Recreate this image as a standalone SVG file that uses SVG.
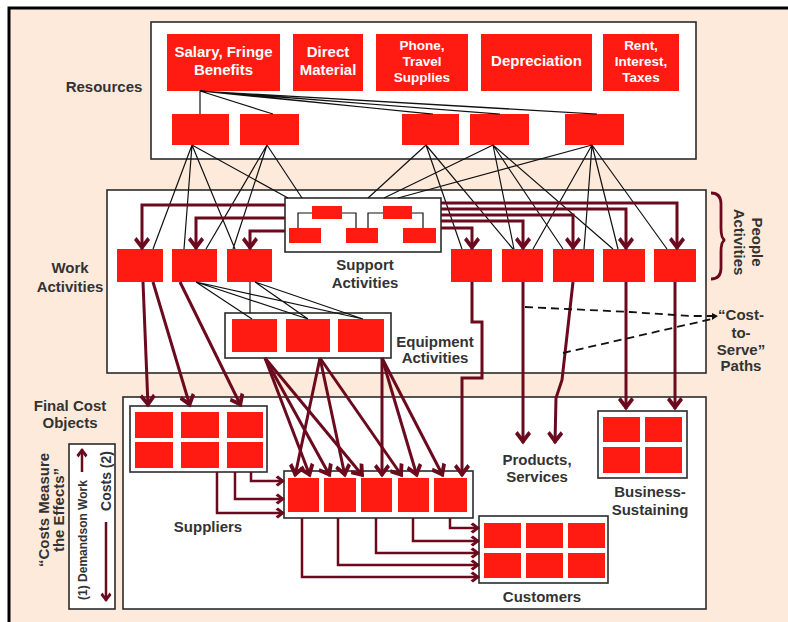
<svg xmlns="http://www.w3.org/2000/svg" width="788" height="622" viewBox="0 0 788 622">
  <defs>
    <style>
      .frame { fill: #FDEADB; stroke: #000; stroke-width: 3; }
      .box { fill: #FFFFFF; stroke: #2b2b2b; stroke-width: 1.6; }
      .red { fill: #FF1A12; }
      .lbl { font-family: "Liberation Sans", Arial, sans-serif; font-weight: bold; font-size: 15px; fill: #333; text-anchor: middle; }
      .wt { font-family: "Liberation Sans", Arial, sans-serif; font-weight: bold; font-size: 15px; fill: #FFFFFF; text-anchor: middle; }
      .wt3 { font-size: 13.5px; }
      .thin { fill: none; stroke: #111; stroke-width: 1.2; }
      .flow { fill: none; stroke: #6B0A1E; stroke-width: 3; marker-end: url(#ah); }
      .flowS { fill: none; stroke: #6B0A1E; stroke-width: 2.5; marker-end: url(#ahS); }
      .dash { fill: none; stroke: #111; stroke-width: 1.8; stroke-dasharray: 8 5; }
      .brace { fill: none; stroke: #6B0A1E; stroke-width: 2.8; }
    </style>
    <marker id="ah" markerUnits="userSpaceOnUse" markerWidth="20" markerHeight="20" refX="0" refY="0" orient="auto" overflow="visible">
      <path d="M1.5,0 L-9,-8 L-12,-5.5 L-5,0 L-12,5.5 L-9,8 Z" fill="#6B0A1E"/>
    </marker>
    <marker id="ahS" markerUnits="userSpaceOnUse" markerWidth="14" markerHeight="14" refX="0" refY="0" orient="auto" overflow="visible">
      <path d="M1,0 L-6,-5.5 L-8.5,-3.5 L-3.5,0 L-8.5,3.5 L-6,5.5 Z" fill="#6B0A1E"/>
    </marker>
  </defs>

  <!-- page frame -->
  <rect class="frame" x="9" y="8" width="790" height="625"/>

  <!-- Resources -->
  <g id="resources">
    <rect class="box" x="151" y="22" width="545" height="137"/>
    <text class="lbl" x="104" y="92">Resources</text>
    <rect class="red" x="167" y="34" width="113" height="57"/>
    <text class="wt" x="223.5" y="57">Salary, Fringe</text>
    <text class="wt" x="223.5" y="75">Benefits</text>
    <rect class="red" x="293" y="34" width="70" height="57"/>
    <text class="wt" x="328" y="57">Direct</text>
    <text class="wt" x="328" y="75">Material</text>
    <rect class="red" x="376" y="34" width="92" height="57"/>
    <text class="wt wt3" x="422" y="50">Phone,</text>
    <text class="wt wt3" x="422" y="66">Travel</text>
    <text class="wt wt3" x="422" y="82">Supplies</text>
    <rect class="red" x="481" y="34" width="111" height="57"/>
    <text class="wt" x="536.5" y="66">Depreciation</text>
    <rect class="red" x="603" y="34" width="76" height="57"/>
    <text class="wt wt3" x="641" y="50">Rent,</text>
    <text class="wt wt3" x="641" y="66">Interest,</text>
    <text class="wt wt3" x="641" y="82">Taxes</text>
    <rect class="red" x="172" y="114" width="57" height="31"/>
    <rect class="red" x="240" y="114" width="59" height="31"/>
    <rect class="red" x="402" y="114" width="57" height="31"/>
    <rect class="red" x="470" y="114" width="59" height="31"/>
    <rect class="red" x="565" y="114" width="59" height="31"/>
  </g>

  <!-- Work Activities -->
  <g id="work-activities">
    <rect class="box" x="107" y="190" width="599" height="183"/>
    <text class="lbl" x="70" y="273">Work</text>
    <text class="lbl" x="70" y="292">Activities</text>
    <rect class="red" x="117" y="249" width="46" height="33"/>
    <rect class="red" x="172" y="249" width="45" height="33"/>
    <rect class="red" x="227" y="249" width="45" height="33"/>
  </g>

  <g id="people-activities">
    <rect class="red" x="451" y="249" width="41" height="33"/>
    <rect class="red" x="502" y="249" width="41" height="33"/>
    <rect class="red" x="553" y="249" width="41" height="33"/>
    <rect class="red" x="603" y="249" width="42" height="33"/>
    <rect class="red" x="654" y="249" width="42" height="33"/>
    <path class="brace" d="M711,193 Q721,193 721,204 L721,228 Q721,239 725,240 Q721,241 721,252 L721,268 Q721,279 711,279"/>
    <text class="lbl" transform="translate(752,242) rotate(90)">People</text>
    <text class="lbl" transform="translate(734,242) rotate(90)">Activities</text>
  </g>

  <!-- Support Activities (small org chart) -->
  <g id="support-activities">
    <rect class="box" x="285" y="198" width="156" height="54"/>
    <path class="thin" d="M312,213 H298 V228 M342,213 H356 V228 M383,213 H368 V228 M412,213 H423 V228"/>
    <rect class="red" x="312" y="206" width="30" height="13"/>
    <rect class="red" x="383" y="206" width="29" height="13"/>
    <rect class="red" x="289" y="228" width="32" height="15"/>
    <rect class="red" x="346" y="228" width="32" height="15"/>
    <rect class="red" x="403" y="228" width="33" height="15"/>
    <text class="lbl" x="365" y="270">Support</text>
    <text class="lbl" x="365" y="288">Activities</text>
  </g>

  <!-- Equipment Activities -->
  <g id="equipment-activities">
    <rect class="box" x="225" y="313" width="166" height="45"/>
    <rect class="red" x="232" y="319" width="45" height="33"/>
    <rect class="red" x="286" y="319" width="44" height="33"/>
    <rect class="red" x="338" y="319" width="46" height="33"/>
    <text class="lbl" x="435" y="347">Equipment</text>
    <text class="lbl" x="435" y="363">Activities</text>
  </g>

  <!-- Final Cost Objects -->
  <g id="final-cost-objects">
    <rect class="box" x="123" y="397" width="583" height="212"/>
    <text class="lbl" x="70" y="411">Final Cost</text>
    <text class="lbl" x="70" y="428">Objects</text>
  </g>

  <g id="suppliers">
    <rect class="box" x="130" y="406" width="137" height="66"/>
    <rect class="red" x="135" y="412" width="38" height="26"/>
    <rect class="red" x="181" y="412" width="38" height="26"/>
    <rect class="red" x="227" y="412" width="36" height="26"/>
    <rect class="red" x="135" y="442" width="38" height="26"/>
    <rect class="red" x="181" y="442" width="38" height="26"/>
    <rect class="red" x="227" y="442" width="36" height="26"/>
    <text class="lbl" x="208" y="532">Suppliers</text>
  </g>

  <g id="product-row">
    <rect class="box" x="284" y="471" width="189" height="47"/>
    <rect class="red" x="288" y="478" width="31" height="34"/>
    <rect class="red" x="324" y="478" width="32" height="34"/>
    <rect class="red" x="361" y="478" width="31" height="34"/>
    <rect class="red" x="398" y="478" width="31" height="34"/>
    <rect class="red" x="434" y="478" width="33" height="34"/>
  </g>

  <g id="customers">
    <rect class="box" x="479" y="516" width="129" height="67"/>
    <rect class="red" x="484" y="523" width="37" height="25"/>
    <rect class="red" x="526" y="523" width="37" height="25"/>
    <rect class="red" x="568" y="523" width="37" height="25"/>
    <rect class="red" x="484" y="553" width="37" height="25"/>
    <rect class="red" x="526" y="553" width="37" height="25"/>
    <rect class="red" x="568" y="553" width="37" height="25"/>
    <text class="lbl" x="542" y="602">Customers</text>
  </g>

  <g id="business-sustaining">
    <rect class="box" x="598" y="411" width="89" height="67"/>
    <rect class="red" x="603" y="417" width="37" height="25"/>
    <rect class="red" x="645" y="417" width="37" height="25"/>
    <rect class="red" x="603" y="447" width="37" height="26"/>
    <rect class="red" x="645" y="447" width="37" height="26"/>
    <text class="lbl" x="650" y="497">Business-</text>
    <text class="lbl" x="650" y="515">Sustaining</text>
  </g>

  <g id="products-services">
    <text class="lbl" x="537" y="465">Products,</text>
    <text class="lbl" x="537" y="482">Services</text>
  </g>

  <!-- legend: direction of demand and cost -->
  <g id="legend">
    <rect class="box" x="69" y="444" width="46" height="165"/>
    <path class="flowS" d="M82,472 V449"/>
    <path class="flowS" d="M106,522 V601"/>
    <text class="lbl" style="font-size:12px" transform="translate(87,540) rotate(-90)">(1) Demandson Work</text>
    <text class="lbl" style="font-size:14px" transform="translate(111,481) rotate(-90)">Costs (2)</text>
    <text class="lbl" transform="translate(49,510) rotate(-90)">“Costs Measure</text>
    <text class="lbl" transform="translate(64,510) rotate(-90)">the Effects”</text>
  </g>

  <g id="cost-to-serve">
    <text class="lbl" x="741" y="320">“Cost-</text>
    <text class="lbl" x="741" y="338">to-</text>
    <text class="lbl" x="741" y="355">Serve”</text>
    <text class="lbl" x="741" y="371">Paths</text>
  </g>

  <!-- connectors -->
  <g id="connectors">
    <!-- resource consumption (thin black) -->
    <path class="thin" d="M200,91 V114 M200,91 L273,114
      M200,91 L433,114 M200,91 L500,114 M200,91 L597,114
      M216,92 L430,114 M216,92 L497,114 M216,92 L594,114"/>
    <path class="thin" d="M192,145 L153,249 M192,145 L184,249 M192,145 L235,249 M192,145 L288,198
      M267,145 L206,249 M267,145 L233,249 M267,145 L302,198
      M426,145 L368,198 M426,145 L462,249 M426,145 L513,249
      M493,145 L384,198 M493,145 L514,249 M493,145 L563,249 M493,145 L613,249
      M592,145 L398,198 M592,145 L533,249 M592,145 L584,249 M592,145 L618,249 M592,145 L667,249"/>
    <path class="thin" d="M196,282 L252,319 M196,282 L308,319 M196,282 L363,319
      M255,282 L308,319 M255,282 L363,319 M250,282 V313"/>

    <!-- support activities to work activities -->
    <path class="flow" d="M285,205 H142 V249"/>
    <path class="flow" d="M285,218 H196 V249"/>
    <path class="flow" d="M285,231 H250 V249"/>
    <path class="flow" d="M441,203 H677 V249"/>
    <path class="flow" d="M441,209 H626 V249"/>
    <path class="flow" d="M441,215 H573 V249"/>
    <path class="flow" d="M441,221 H523 V249"/>
    <path class="flow" d="M441,228 H472 V249"/>

    <!-- work activities to cost objects -->
    <path class="flow" d="M143,282 L148,406"/>
    <path class="flow" d="M153,282 L190,406"/>
    <path class="flow" d="M180,282 L241,406"/>
    <path class="flow" d="M472,282 V322 H482 V378 H462 V476"/>
    <path class="flow" d="M523,282 V443"/>
    <path class="flow" d="M573,282 L562,380 L556,398 L555,443"/>
    <path class="flow" d="M626,282 V409"/>
    <path class="flow" d="M675,282 V409"/>

    <!-- equipment activities to cost objects -->
    <path class="flow" d="M265,358 L310,476"/>
    <path class="flow" d="M265,358 L330,476"/>
    <path class="flow" d="M265,358 L363,476"/>
    <path class="flow" d="M320,358 L295,476"/>
    <path class="flow" d="M320,358 L345,476"/>
    <path class="flow" d="M320,358 L402,476"/>
    <path class="flow" d="M382,358 L382,476"/>
    <path class="flow" d="M382,358 L417,476"/>
    <path class="flow" d="M382,358 L443,476"/>

    <!-- suppliers to products, products to customers -->
    <path class="flowS" d="M217,472 V513 H284"/>
    <path class="flowS" d="M235,472 V499 H284"/>
    <path class="flowS" d="M251,472 V481 H284"/>
    <path class="flowS" d="M302,518 V577 H479"/>
    <path class="flowS" d="M338,518 V565 H479"/>
    <path class="flowS" d="M376,518 V553 H479"/>
    <path class="flowS" d="M413,518 V541 H479"/>
    <path class="flowS" d="M450,518 V528 H479"/>

    <!-- cost-to-serve paths -->
    <path class="dash" d="M525,307 L630,312 L690,316 L712,316"/>
    <path class="dash" d="M563,353 L712,319"/>
    <path d="M712,313 L718,316 L712,320 Z" fill="#111"/>
  </g>
</svg>
